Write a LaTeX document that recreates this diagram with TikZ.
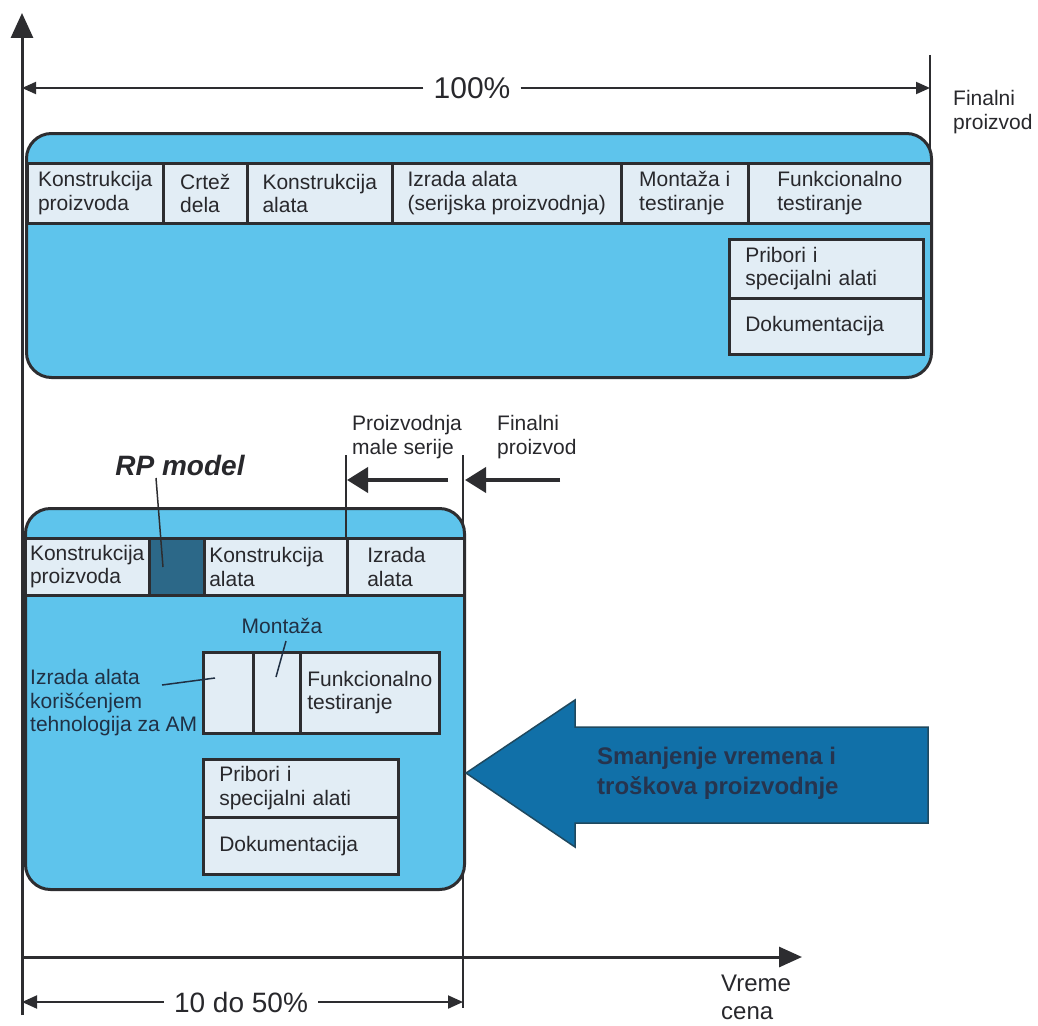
\documentclass[tikz,border=0pt]{standalone}
\usepackage{fontspec}
\setmainfont{Liberation Sans}
\usetikzlibrary{arrows.meta}
\definecolor{linec}{RGB}{45,45,48}
\definecolor{boxblue}{RGB}{94,196,236}
\definecolor{cellc}{RGB}{226,237,245}
\definecolor{rpcell}{RGB}{44,104,136}
\definecolor{arrowblue}{RGB}{17,112,168}
\definecolor{arrowtext}{RGB}{38,52,78}
\definecolor{textc}{RGB}{40,40,44}
\definecolor{labc}{RGB}{32,48,68}
\newcommand\fsA{\fontsize{21}{23.5}\selectfont}
\begin{document}
\begin{tikzpicture}[x=1pt,y=-1pt,
  axis/.style={draw=linec, line width=3pt},
  bigbox/.style={draw=linec, line width=3pt, fill=boxblue, rounded corners=25pt, inner sep=0pt},
  cell/.style={draw=linec, line width=2.5pt, fill=cellc, inner sep=0pt, align=left, font=\fsA, text=textc, anchor=north west},
  lbl/.style={font=\fsA, text=textc, align=left, inner sep=0pt},
  thin/.style={draw=linec, line width=1.5pt},
  dim/.style={draw=linec, line width=2pt},
  bold arrow/.style={draw=linec, line width=4pt, -{Triangle[length=21pt,width=25pt]}}
]
\useasboundingbox[fill=white] (0,0) rectangle (1038,1025);

% axes
\coordinate (ytop) at (22,13);
\coordinate (ybot) at (22,1015);
\draw[axis, -{Triangle[length=25pt,width=22pt]}] (ybot) -- (ytop);
\coordinate (xorg) at (22,957);
\coordinate (xend) at (802,957);
\draw[axis, -{Triangle[length=23pt,width=20pt]}] (xorg) -- (xend);

% right limit lines (under boxes)
\coordinate (fpa) at (930,55);
\coordinate (fpb) at (930,160);
\draw[thin] (fpa) -- (fpb);
\coordinate (msa) at (463,455);
\coordinate (msb) at (463,1008);
\draw[thin] (msa) -- (msb);

% 100% dimension
\node[font=\fontsize{30}{32}\selectfont, text=textc, inner xsep=10pt, inner ysep=0pt] (p100) at (472,88) {100\%};
\coordinate (l100) at (22,88);
\coordinate (r100) at (930,88);
\draw[dim, -{Triangle[length=14pt,width=12pt]}] (p100) -- (l100);
\draw[dim, -{Triangle[length=14pt,width=12pt]}] (p100) -- (r100);
\node[lbl, anchor=west] (fin1) at (953,112) {Finalni\\proizvod};

% upper box
\node[bigbox, minimum width=905pt, minimum height=244pt, anchor=north west] (upper) at (25,132) {};
\node[cell, minimum width=136pt, minimum height=60pt] (c1) at (26,162) {Konstrukcija\\proizvoda};
\node[cell, minimum width=84pt, minimum height=60pt] (c2) at (162,162) {Crtež\\dela};
\node[cell, minimum width=145pt, minimum height=60pt] (c3) at (246,162) {Konstrukcija\\alata};
\node[cell, minimum width=229pt, minimum height=60pt] (c4) at (391,162) {Izrada alata\\(serijska proizvodnja)};
\node[cell, minimum width=127pt, minimum height=60pt] (c5) at (620,162) {Montaža i\\testiranje};
\node[cell, minimum width=183pt, minimum height=60pt] (c6) at (747,162) {Funkcionalno\\testiranje};
\node[cell, text width=162pt, inner xsep=16pt, minimum height=59pt] (pr1) at (728,238) {Pribori i\\specijalni alati};
\node[cell, text width=162pt, inner xsep=16pt, minimum height=56pt] (dk1) at (728,297) {Dokumentacija};

% middle labels and arrows
\node[font=\bfseries\itshape\fontsize{28}{30}\selectfont, text=textc, inner sep=0pt] (rp) at (180,465) {RP model};
\node[lbl, anchor=west] (mal) at (352,437) {Proizvodnja\\male serije};
\node[lbl, anchor=west] (fin2) at (497,437) {Finalni\\proizvod};

% lower box
\node[bigbox, minimum width=439pt, minimum height=381pt, anchor=north west] (lower) at (24,507) {};
\node[cell, minimum width=124pt, minimum height=57pt] (d1) at (24,537) {Konstrukcija\\proizvoda};
\node[cell, fill=rpcell, minimum width=55pt, minimum height=57pt] (d2) at (148,537) {};
\node[cell, text width=133pt, inner xsep=5pt, minimum height=57pt] (d3) at (203,537) {Konstrukcija\\alata};
\node[cell, text width=77pt, inner xsep=20pt, minimum height=57pt] (d4) at (346,537) {Izrada\\alata};

\coordinate (mala) at (346,455);
\coordinate (malb) at (346,537);
\draw[thin] (mala) -- (malb);
\coordinate (a1s) at (448,480);
\coordinate (a1e) at (347,480);
\draw[bold arrow] (a1s) -- (a1e);
\coordinate (a2s) at (560,480);
\coordinate (a2e) at (465,480);
\draw[bold arrow] (a2s) -- (a2e);

\coordinate (rpa) at (156,478);
\coordinate (rpl) at (163,567);
\draw[thin] (rpa) -- (rpl);

% inner group
\node[cell, minimum width=50pt, minimum height=81pt] (e1) at (202,651) {};
\node[cell, minimum width=47pt, minimum height=81pt] (e2) at (252,651) {};
\node[cell, minimum width=139pt, minimum height=81pt] (e3) at (299,651) {Funkcionalno\\testiranje};
\node[lbl, text=labc, anchor=center] (mon) at (282,626) {Montaža};
\coordinate (mona) at (286,641);
\coordinate (monp) at (276,677);
\draw[thin, draw=labc] (mona) -- (monp);
\node[lbl, text=labc, anchor=west] (izr) at (30,703) {Izrada alata\\korišćenjem\\tehnologija za AM};
\coordinate (izra) at (162,685);
\coordinate (izrp) at (215,678);
\draw[thin, draw=labc] (izra) -- (izrp);

\node[cell, text width=163pt, inner xsep=16pt, minimum height=58pt] (pr2) at (202,758) {Pribori i\\specijalni alati};
\node[cell, text width=163pt, inner xsep=16pt, minimum height=57pt] (dk2) at (202,816) {Dokumentacija};

% big arrow
\draw[draw=rpcell!70!black, line width=1.5pt, fill=arrowblue]
  (466,773) -- (575,700) -- (575,727) -- (928,727) -- (928,823) -- (575,823) -- (575,847) -- cycle;
\node[font=\bfseries\fontsize{24}{30}\selectfont, text=arrowtext, align=left, anchor=west, inner sep=0pt] (sm) at (597,773) {Smanjenje vremena i\\troškova proizvodnje};

% 10 do 50% dimension
\node[font=\fontsize{28}{30}\selectfont, text=textc, inner xsep=10pt, inner ysep=0pt] (p10) at (241,1002) {10 do 50\%};
\coordinate (l10) at (22,1002);
\coordinate (r10) at (463,1002);
\draw[dim, -{Triangle[length=15pt,width=13pt]}] (p10) -- (l10);
\draw[dim, -{Triangle[length=15pt,width=13pt]}] (p10) -- (r10);

\node[font=\fontsize{24}{28}\selectfont, text=textc, align=left, anchor=west, inner sep=0pt] (vr) at (721,997) {Vreme\\cena};
\end{tikzpicture}
\end{document}
